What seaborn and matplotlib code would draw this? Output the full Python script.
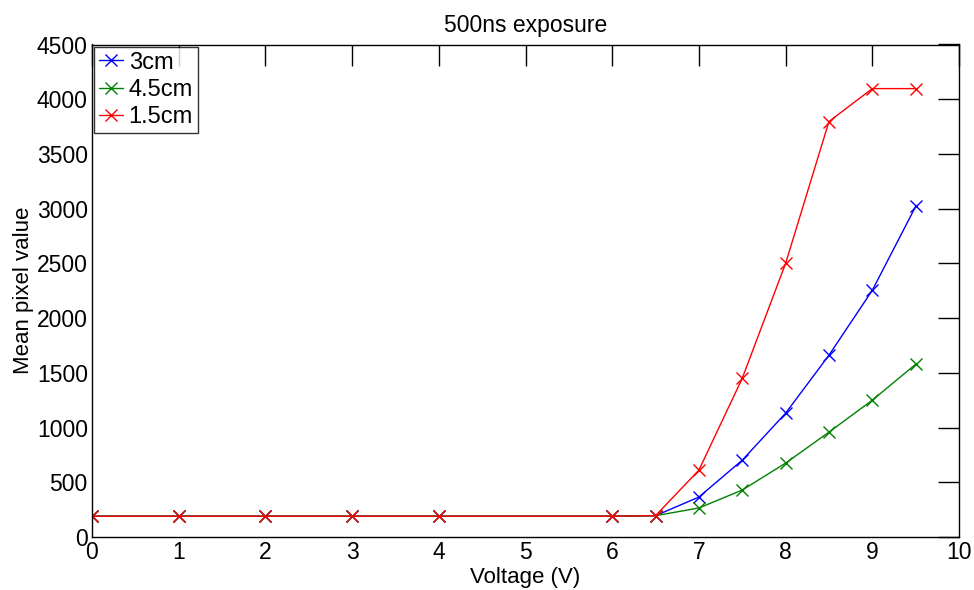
import matplotlib
matplotlib.use("Agg")
import matplotlib.pyplot as plt
import seaborn as sns
import pandas as pd

voltage = [0, 1, 2, 3, 4, 6, 6.5, 7, 7.5, 8, 8.5, 9, 9.5]
cm3 = [190, 190, 190, 190, 190, 190, 195, 365, 702, 1131, 1661, 2254, 3020]
cm45 = [190, 190, 190, 190, 190, 190, 195, 265, 429, 675, 958, 1250, 1578]
cm15 = [190, 190, 190, 190, 190, 190, 195, 611, 1450, 2500, 3796, 4097, 4097]
labels = ["3cm", "4.5cm", "1.5cm"]
colors = ["#0000ff", "#008000", "#ff0000"]

sns.set_style("white")
plt.rcParams['font.family'] = ['Liberation Sans', 'DejaVu Sans']
plt.rcParams['text.color'] = 'black'
plt.rcParams['axes.labelcolor'] = 'black'
plt.rcParams['xtick.color'] = 'black'
plt.rcParams['ytick.color'] = 'black'

W, H = 974, 590
left, right, top, bottom = 92, 959, 44.5, 537
fig = plt.figure(figsize=(W / 100, H / 100), dpi=100)
ax = fig.add_axes([left / W, (H - bottom) / H, (right - left) / W, (bottom - top) / H])
for lab, vals, c in zip(labels, [cm3, cm45, cm15], colors):
    d = pd.DataFrame({"Voltage": voltage, "Value": vals})
    sns.lineplot(data=d, x="Voltage", y="Value", color=c, marker="x",
                 markersize=9, markeredgewidth=1.0, markeredgecolor=c,
                 linewidth=1.0, ax=ax, sort=False, estimator=None, label=lab)

ax.set_xlim(0, 10)
ax.set_ylim(0, 4500)
ax.set_xticks(range(0, 11))
ax.set_yticks(range(0, 4501, 500))
ax.tick_params(direction="in", length=15, width=1, top=True, right=True,
               labelsize=16.5, colors="black")
ax.tick_params(axis="x", pad=3)
ax.tick_params(axis="y", pad=3)
for s in ax.spines.values():
    s.set_visible(True)
    s.set_color("black")
    s.set_linewidth(1.0)
ax.set_xlabel("Voltage (V)", fontsize=16, labelpad=2)
ax.set_ylabel("Mean pixel value", fontsize=16, labelpad=2)
ax.set_title("500ns exposure", fontsize=16.5, pad=9)
leg = ax.legend(loc="upper left", fontsize=17, frameon=True, fancybox=False,
                edgecolor="black", borderaxespad=0.1, handlelength=1.0,
                borderpad=0.2, labelspacing=0.22, handletextpad=0.25,
                markerscale=1.0)
leg.get_frame().set_linewidth(1.0)

fig.savefig("out.png", dpi=100)
